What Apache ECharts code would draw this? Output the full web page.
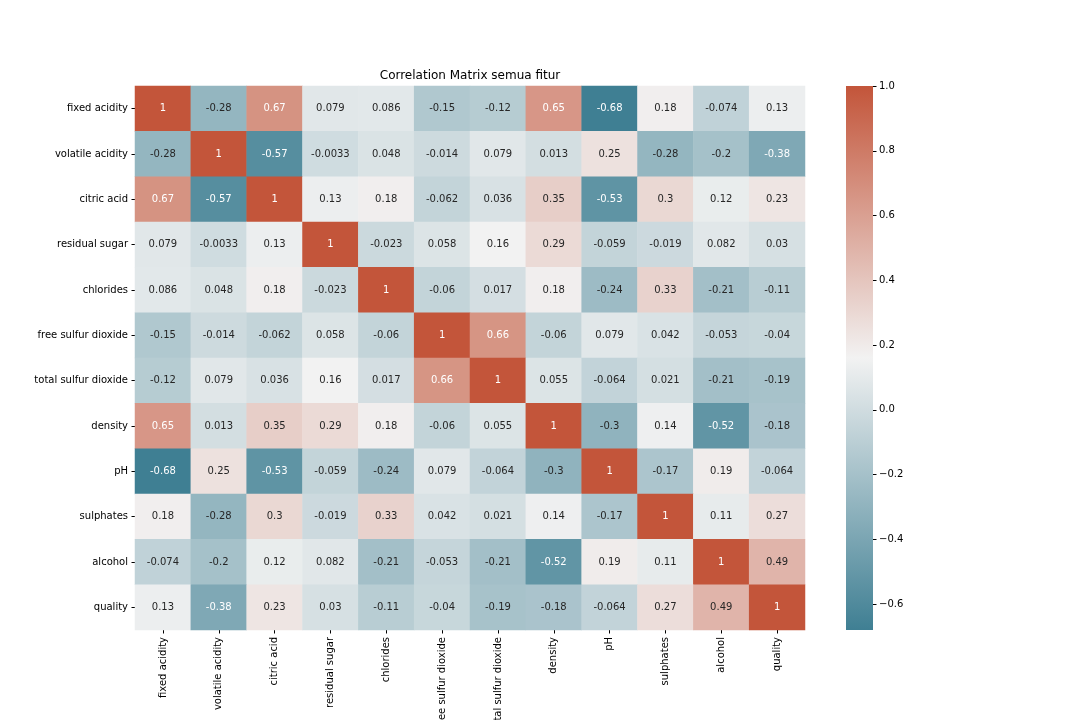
<!DOCTYPE html>
<html>
<head>
<meta charset="utf-8">
<script src="https://cdn.jsdelivr.net/npm/echarts@6/dist/echarts.min.js"></script>
<style>html,body{margin:0;padding:0;background:#fff}#c{width:1080px;height:720px}</style>
</head>
<body>
<div id="c"></div>
<script>
const features = ['fixed acidity','volatile acidity','citric acid','residual sugar','chlorides','free sulfur dioxide','total sulfur dioxide','density','pH','sulphates','alcohol','quality'];
const rowFixedAcidity   = [1, -0.28, 0.67, 0.079, 0.086, -0.15, -0.12, 0.65, -0.68, 0.18, -0.074, 0.13];
const rowVolatileAcidity= [-0.28, 1, -0.57, -0.0033, 0.048, -0.014, 0.079, 0.013, 0.25, -0.28, -0.2, -0.38];
const rowCitricAcid     = [0.67, -0.57, 1, 0.13, 0.18, -0.062, 0.036, 0.35, -0.53, 0.3, 0.12, 0.23];
const rowResidualSugar  = [0.079, -0.0033, 0.13, 1, -0.023, 0.058, 0.16, 0.29, -0.059, -0.019, 0.082, 0.03];
const rowChlorides      = [0.086, 0.048, 0.18, -0.023, 1, -0.06, 0.017, 0.18, -0.24, 0.33, -0.21, -0.11];
const rowFreeSO2        = [-0.15, -0.014, -0.062, 0.058, -0.06, 1, 0.66, -0.06, 0.079, 0.042, -0.053, -0.04];
const rowTotalSO2       = [-0.12, 0.079, 0.036, 0.16, 0.017, 0.66, 1, 0.055, -0.064, 0.021, -0.21, -0.19];
const rowDensity        = [0.65, 0.013, 0.35, 0.29, 0.18, -0.06, 0.055, 1, -0.3, 0.14, -0.52, -0.18];
const rowPH             = [-0.68, 0.25, -0.53, -0.059, -0.24, 0.079, -0.064, -0.3, 1, -0.17, 0.19, -0.064];
const rowSulphates      = [0.18, -0.28, 0.3, -0.019, 0.33, 0.042, 0.021, 0.14, -0.17, 1, 0.11, 0.27];
const rowAlcohol        = [-0.074, -0.2, 0.12, 0.082, -0.21, -0.053, -0.21, -0.52, 0.19, 0.11, 1, 0.49];
const rowQuality        = [0.13, -0.38, 0.23, 0.03, -0.11, -0.04, -0.19, -0.18, -0.064, 0.27, 0.49, 1];
const colorbarTicks = [-0.6, -0.4, -0.2, 0.0, 0.2, 0.4, 0.6, 0.8, 1.0];
const vMin = -0.68, vMax = 1.0;

const rows = [rowFixedAcidity,rowVolatileAcidity,rowCitricAcid,rowResidualSugar,rowChlorides,rowFreeSO2,rowTotalSO2,rowDensity,rowPH,rowSulphates,rowAlcohol,rowQuality];
const NEG = [63,127,147], MID = [242,242,242], POS = [195,85,58];
function hex(c){return '#'+c.map(v=>Math.round(v).toString(16).padStart(2,'0')).join('');}
function cmap(v){
  let t = (v - vMin)/(vMax - vMin); t = Math.max(0, Math.min(1, t));
  let a, b, u;
  if (t < 0.5){a=NEG;b=MID;u=t/0.5;} else {a=MID;b=POS;u=(t-0.5)/0.5;}
  return [0,1,2].map(i=>a[i]+(b[i]-a[i])*u);
}
function lum(c){
  const l = c.map(x=>{x/=255;return x<=0.03928? x/12.92 : Math.pow((x+0.055)/1.055,2.4);});
  return 0.2126*l[0]+0.7152*l[1]+0.0722*l[2];
}
const data = [];
rows.forEach((r, yi)=>r.forEach((v, xi)=>{
  const col = cmap(v);
  data.push({value:[xi, yi, v], label:{color: lum(col) > 0.408 ? '#262626' : '#ffffff'}});
}));

const FONT = 'DejaVu Sans';
const chart = echarts.init(document.getElementById('c'), null, {renderer:'canvas'});
chart.setOption({
  animation:false,
  backgroundColor:'#ffffff',
  textStyle:{fontFamily:FONT},
  title:{text:'Correlation Matrix semua fitur', left:465, top:65, textAlign:'center',
    textStyle:{fontFamily:FONT, fontSize:12, fontWeight:'normal', color:'#000'}},
  grid:[
    {left:135, top:86, width:670, height:544, containLabel:false, outerBoundsMode:'none'},
    {left:846, top:86, width:27, height:544, containLabel:false, outerBoundsMode:'none'}
  ],
  xAxis:[
    {type:'category', data:features, gridIndex:0, position:'bottom',
     axisLine:{show:false}, axisTick:{show:true, length:3.5, alignWithLabel:true, lineStyle:{color:'#000'}},
     axisLabel:{rotate:90, interval:0, fontSize:10, color:'#000', fontFamily:FONT, margin:7},
     splitLine:{show:false}},
    {type:'value', gridIndex:1, show:false, min:0, max:1, splitLine:{show:false}}
  ],
  yAxis:[
    {type:'category', data:features, gridIndex:0, inverse:true,
     axisLine:{show:false}, axisTick:{show:true, length:3.5, alignWithLabel:true, lineStyle:{color:'#000'}},
     axisLabel:{interval:0, fontSize:10, color:'#000', fontFamily:FONT, margin:7},
     splitLine:{show:false}},
    {type:'value', gridIndex:1, position:'right', min:vMin, max:vMax,
     axisLine:{show:false, onZero:false},
     axisTick:{show:true, length:3.5, inside:false, customValues:colorbarTicks, lineStyle:{color:'#000'}},
     axisLabel:{show:true, customValues:colorbarTicks, fontSize:10, color:'#000', fontFamily:FONT, margin:6,
       formatter:v=>(v<0?'\u2212':'')+Math.abs(v).toFixed(1)},
     splitLine:{show:false}, minorTick:{show:false}}
  ],
  visualMap:{
    type:'continuous', min:vMin, max:vMax, seriesIndex:0, show:false,
    inRange:{color:[hex(NEG), hex(MID), hex(POS)]}
  },
  series:[
    {type:'heatmap', xAxisIndex:0, yAxisIndex:0, data:data,
     label:{show:true, fontSize:10, fontFamily:FONT, formatter:p=>String(p.value[2])},
     itemStyle:{borderWidth:0},
     emphasis:{disabled:true}},
    {type:'scatter', xAxisIndex:1, yAxisIndex:1, data:[], silent:true}
  ]
});
// colorbar: gradient rectangle placed from the colorbar axis scale
const pTop = chart.convertToPixel({xAxisIndex:1, yAxisIndex:1}, [0, vMax]);
const pBot = chart.convertToPixel({xAxisIndex:1, yAxisIndex:1}, [1, vMin]);
chart.setOption({
  graphic:[{
    type:'rect', silent:true, z:100,
    shape:{x:pTop[0], y:pTop[1], width:pBot[0]-pTop[0], height:pBot[1]-pTop[1]},
    style:{fill:new echarts.graphic.LinearGradient(0,0,0,1,[
      {offset:0, color:hex(POS)}, {offset:0.5, color:hex(MID)}, {offset:1, color:hex(NEG)}
    ])}
  }]
});
</script>
</body>
</html>
